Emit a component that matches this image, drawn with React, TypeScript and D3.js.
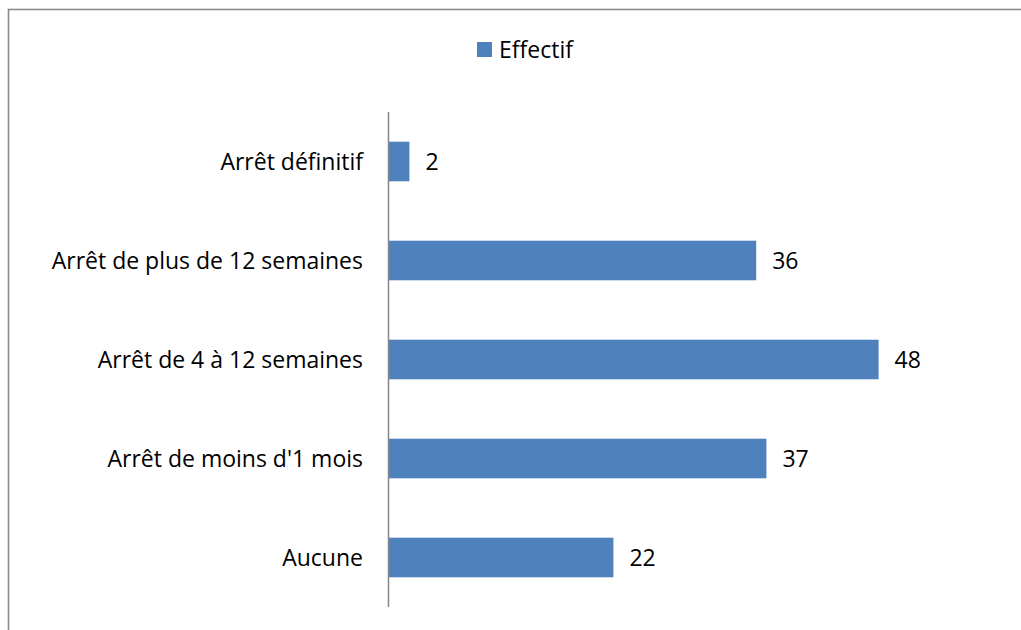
import { useEffect, useRef } from "react";
import * as d3 from "d3";

// categories top to bottom, as in the picture
const categories = [
  "Arrêt définitif",
  "Arrêt de plus de 12 semaines",
  "Arrêt de 4 à 12 semaines",
  "Arrêt de moins d'1 mois",
  "Aucune",
];
const effectif = [2, 36, 48, 37, 22];
const seriesName = "Effectif";

const W = 1021;
const H = 630;
const FONT = "'Open Sans', sans-serif";
const FS = 23;
const BLUE = "#4f81bd";

export default function App() {
  const svgRef = useRef<SVGSVGElement | null>(null);

  useEffect(() => {
    const svg = d3.select(svgRef.current);
    svg.selectAll("*").remove();

    const rows = categories.map((c, i) => ({ name: c, value: effectif[i] }));

    // outer chart border (cropped at right/bottom in the original)
    svg.append("rect")
      .attr("x", 8.5).attr("y", 9.5)
      .attr("width", W + 20).attr("height", H + 20)
      .attr("fill", "#fff")
      .attr("stroke", "#8a8a8a")
      .attr("stroke-width", 1.6);

    const y = d3.scaleBand()
      .domain(categories)
      .range([112, 607])
      .paddingInner(0.6)
      .paddingOuter(0.3);

    const x = d3.scaleLinear()
      .domain([0, 60])
      .range([389, 1001]);

    const g = svg.append("g");

    g.selectAll(".bar")
      .data(rows)
      .enter()
      .append("rect")
      .attr("class", "bar")
      .attr("x", x(0))
      .attr("y", d => y(d.name)!)
      .attr("width", d => x(d.value) - x(0))
      .attr("height", y.bandwidth())
      .attr("fill", BLUE);

    // vertical category axis
    g.append("line")
      .attr("x1", x(0) - 0.5).attr("x2", x(0) - 0.5)
      .attr("y1", 112).attr("y2", 607)
      .attr("stroke", "#868686")
      .attr("stroke-width", 1.5);

    g.selectAll(".cat")
      .data(rows)
      .enter()
      .append("text")
      .attr("class", "cat")
      .attr("x", 363)
      .attr("y", d => y(d.name)! + y.bandwidth() / 2)
      .attr("dy", "0.35em")
      .attr("text-anchor", "end")
      .attr("font-family", FONT)
      .attr("font-size", FS)
      .attr("fill", "#000")
      .text(d => d.name);

    g.selectAll(".val")
      .data(rows)
      .enter()
      .append("text")
      .attr("class", "val")
      .attr("x", d => x(d.value) + 16)
      .attr("y", d => y(d.name)! + y.bandwidth() / 2)
      .attr("dy", "0.35em")
      .attr("font-family", FONT)
      .attr("font-size", FS)
      .attr("fill", "#000")
      .text(d => d.value);

    // legend
    const lg = svg.append("g").attr("transform", "translate(477,42)");
    lg.append("rect").attr("width", 15).attr("height", 15).attr("fill", BLUE);
    lg.append("text")
      .attr("x", 22).attr("y", 7.5)
      .attr("dy", "0.35em")
      .attr("font-family", FONT)
      .attr("font-size", FS)
      .attr("fill", "#000")
      .text(seriesName);
  }, []);

  return (
    <svg
      ref={svgRef}
      width={W}
      height={H}
      style={{ position: "absolute", left: 0, top: 0, background: "#fff" }}
    />
  );
}
